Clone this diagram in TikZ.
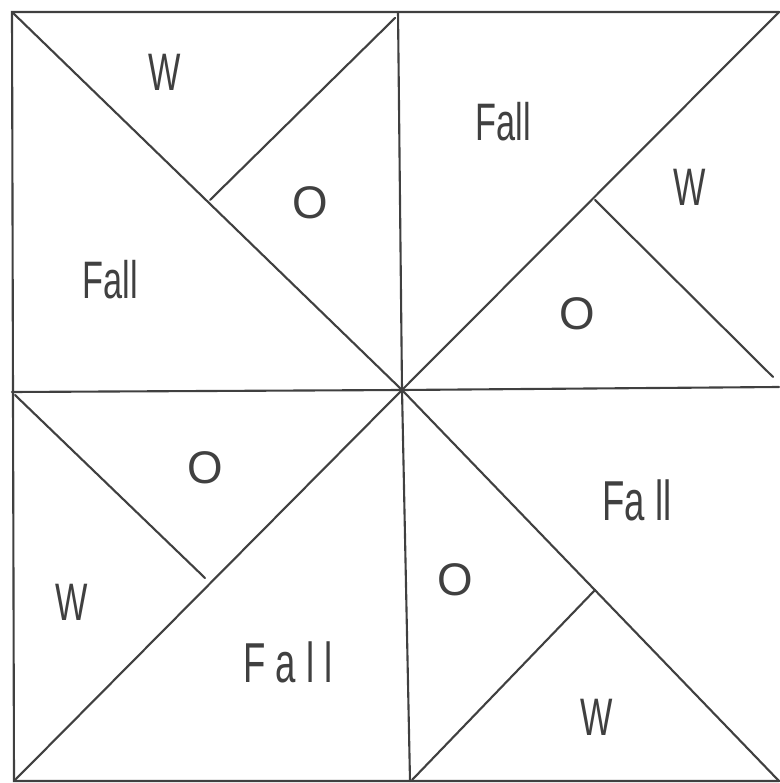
\documentclass[tikz,border=0pt]{standalone}
\usepackage{fontspec}
\setmainfont{Liberation Sans}
\begin{document}
\begin{tikzpicture}[x=0.01cm,y=-0.01cm,
  pen/.style={draw=black!75,line width=0.6pt,line cap=round},
  lbl/.style={text=black!75,font=\fontsize{15}{15}\selectfont\addfontfeature{FakeStretch=0.65},inner sep=0pt},
  olbl/.style={text=black!75,font=\fontsize{13}{13}\selectfont,inner sep=0pt}]
\useasboundingbox (0,0) rectangle (779,783);
% corners and key points
\coordinate (tl) at (12,12);
\coordinate (tm) at (398,12);
\coordinate (tr) at (779,12);
\coordinate (ml) at (12,392);
\coordinate (c) at (402,390);
\coordinate (mr) at (779,387);
\coordinate (bl) at (14,781);
\coordinate (bm) at (410,781);
\coordinate (br) at (779,781);
% inner half-diagonals
\coordinate (a1) at (395,18);   \coordinate (a2) at (210,200);
\coordinate (b1) at (595,200);  \coordinate (b2) at (773,377);
\coordinate (d1) at (15,395);   \coordinate (d2) at (205,578);
\coordinate (e1) at (595,590);  \coordinate (e2) at (412,780);
% outline
\draw[pen] (tr) -- (tl) -- (bl) -- (br);
\draw[pen] (tm) -- (c) -- (bm);
\draw[pen] (ml) -- (c) -- (mr);
% main diagonals
\draw[pen] (tl) -- (c);
\draw[pen] (c) -- (tr);
\draw[pen] (c) -- (bl);
\draw[pen] (c) -- (br);
% inner lines
\draw[pen] (a1) -- (a2);
\draw[pen] (b1) -- (b2);
\draw[pen] (d1) -- (d2);
\draw[pen] (e1) -- (e2);
% labels
\node[lbl] (w1) at (165,72) {W};
\node[olbl] (o1) at (310,203) {O};
\node[lbl] (f1) at (110,280) {Fall};
\node[lbl] (f2) at (503,122) {Fall};
\node[lbl] (w2) at (690,187) {W};
\node[olbl] (o2) at (577,314) {O};
\node[olbl] (o3) at (205,468) {O};
\node[lbl] (w3) at (72,602) {W};
\node[lbl,font=\fontsize{16}{16}\selectfont\addfontfeature{FakeStretch=0.65}] (f3) at (288,662) {F a l l};
\node[lbl,font=\fontsize{16}{16}\selectfont\addfontfeature{FakeStretch=0.65}] (f4) at (637,500) {Fa ll};
\node[olbl] (o4) at (455,580) {O};
\node[lbl] (w4) at (597,717) {W};
\end{tikzpicture}
\end{document}
